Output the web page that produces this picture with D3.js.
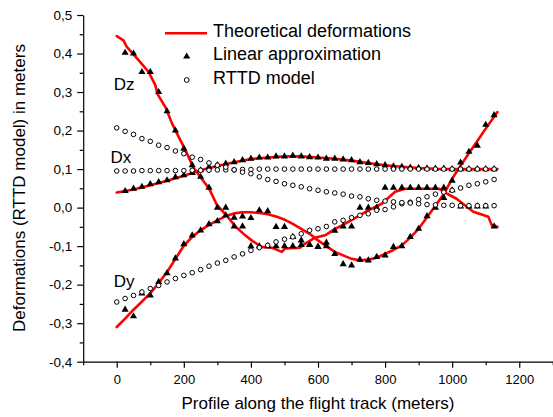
<!DOCTYPE html>
<html><head><meta charset="utf-8">
<script src="https://cdn.jsdelivr.net/npm/d3@7"></script>
<style>body{margin:0;background:#fff} svg{display:block} text{font-family:"Liberation Sans",Arial,sans-serif;fill:#000}</style>
</head><body><svg id="c" width="553" height="417"></svg>
<script>
// ---------- data ----------
const xTicks = [0,200,400,600,800,1000,1200];
const xTickLabels = ["0","200","400","600","800","1000","1200"];
const xMinor = [-100,100,300,500,700,900,1100,1300];
const yTicks = [-0.4,-0.3,-0.2,-0.1,0,0.1,0.2,0.3,0.4,0.5];
const yTickLabels = ["-0,4","-0,3","-0,2","-0,1","0,0","0,1","0,2","0,3","0,4","0,5"];
const yMinor = [-0.35,-0.25,-0.15,-0.05,0.05,0.15,0.25,0.35,0.45];

const stations = [0,25,50,75,100,125,150,175,200,225,250,275,300,325,350,375,400,425,450,475,500,525,550,575,600,625,650,675,700,725,750,775,800,825,850,875,900,925,950,975,1000,1025,1050,1075,1100,1125];

// Linear approximation (triangles); first station has no point
const dxLinear = [null,0.043,0.049,0.054,0.061,0.066,0.071,0.079,0.084,0.090,0.097,0.105,0.110,0.114,0.118,0.123,0.127,0.130,0.130,0.133,0.133,0.135,0.133,0.131,0.130,0.127,0.127,0.125,0.123,0.118,0.116,0.113,0.110,0.107,0.106,0.104,0.103,0.102,0.101,0.101,0.100,0.100,0.100,0.100,0.100,0.100];
const dyLinear = [null,-0.265,-0.282,-0.223,-0.228,-0.193,-0.170,-0.132,-0.095,-0.072,-0.059,-0.043,-0.035,-0.020,-0.026,-0.023,-0.027,-0.007,-0.009,-0.050,-0.050,-0.076,-0.085,-0.097,-0.102,-0.100,-0.120,-0.147,-0.150,-0.135,-0.137,-0.128,-0.124,-0.102,-0.100,-0.076,-0.055,-0.022,0.000,0.025,0.070,0.117,0.145,0.161,0.215,0.240];
const dzLinear = [null,0.402,0.400,0.352,0.352,0.300,0.250,0.200,0.153,0.110,0.080,0.052,0.000,0.000,-0.049,-0.049,-0.100,-0.100,-0.100,-0.100,-0.100,-0.100,-0.097,-0.097,-0.102,-0.091,-0.060,-0.049,-0.049,0.000,0.000,0.000,0.052,0.052,0.052,0.052,0.052,0.052,0.052,0.052,0.045,0.003,0.003,0.003,0.003,-0.049];

// RTTD model (circles)
const dxRttd = [0.095,0.095,0.095,0.096,0.096,0.096,0.096,0.096,0.096,0.097,0.097,0.097,0.098,0.098,0.098,0.099,0.099,0.100,0.100,0.100,0.100,0.100,0.100,0.100,0.100,0.100,0.100,0.100,0.100,0.100,0.100,0.100,0.100,0.100,0.100,0.100,0.100,0.100,0.100,0.100,0.100,0.100,0.100,0.100,0.100,0.100];
const dyRttd = [-0.245,-0.236,-0.228,-0.219,-0.210,-0.202,-0.193,-0.184,-0.176,-0.169,-0.161,-0.152,-0.144,-0.137,-0.128,-0.120,-0.111,-0.104,-0.098,-0.089,-0.082,-0.076,-0.068,-0.059,-0.055,-0.049,-0.037,-0.033,-0.026,-0.020,-0.016,-0.007,-0.005,0.002,0.010,0.014,0.021,0.028,0.035,0.040,0.045,0.051,0.058,0.062,0.067,0.073];
const dzRttd = [0.207,0.198,0.190,0.179,0.172,0.162,0.156,0.147,0.140,0.131,0.125,0.116,0.110,0.105,0.098,0.092,0.088,0.080,0.073,0.068,0.062,0.058,0.054,0.049,0.045,0.041,0.038,0.035,0.030,0.028,0.023,0.019,0.017,0.015,0.013,0.012,0.010,0.008,0.007,0.006,0.006,0.005,0.005,0.005,0.005,0.005];

// Theoretical deformations (red lines)
const dxTheoX = [0,50,100,150,200,250,300,350,400,450,500,550,600,650,700,750,800,850,900,950,1000,1050,1100,1135];
const dxTheo  = [0.039,0.047,0.058,0.070,0.083,0.097,0.108,0.118,0.126,0.130,0.133,0.133,0.130,0.127,0.122,0.116,0.110,0.106,0.103,0.101,0.100,0.100,0.100,0.100];
const dyTheoX = [0,25,50,75,100,125,150,175,200,225,250,275,300,325,350,375,400,425,450,475,500,525,550,575,600,625,650,675,700,725,750,775,800,825,850,875,900,925,950,975,1000,1025,1050,1075,1100,1135];
const dyTheo  = [-0.310,-0.288,-0.265,-0.244,-0.222,-0.196,-0.167,-0.133,-0.099,-0.076,-0.059,-0.045,-0.033,-0.022,-0.015,-0.012,-0.012,-0.014,-0.017,-0.023,-0.031,-0.042,-0.055,-0.068,-0.085,-0.100,-0.115,-0.124,-0.133,-0.137,-0.135,-0.130,-0.120,-0.110,-0.098,-0.078,-0.055,-0.025,0.005,0.035,0.075,0.109,0.141,0.173,0.205,0.248];
const dzTheoX = [0,20,30,65,95,115,122,145,165,185,205,228,253,275,298,325,355,383,405,432,462,492,502,546,561,591,621,651,680,710,750,790,830,860,960,985,1013,1063,1108,1118,1135];
const dzTheo  = [0.445,0.434,0.417,0.383,0.352,0.318,0.294,0.261,0.218,0.183,0.149,0.105,0.075,0.050,0.008,-0.018,-0.050,-0.072,-0.087,-0.102,-0.104,-0.115,-0.106,-0.104,-0.094,-0.078,-0.072,-0.055,-0.042,-0.027,-0.007,0.010,0.041,0.049,0.049,0.036,0.023,-0.011,-0.024,-0.046,-0.050];

const componentLabels = [
  {text:"Dz", x:0, y:0.305},
  {text:"Dx", x:-10, y:0.115},
  {text:"Dy", x:0, y:-0.207}
];
const legendLabels = ["Theoretical deformations","Linear approximation","RTTD model"];
const xTitle = "Profile along the flight track (meters)";
const yTitle = "Deformations (RTTD model) in meters";

// ---------- chart ----------
const svg = d3.select('#c');
const x = d3.scaleLinear().domain([-100,1300]).range([83.2,552.8]);
const y = d3.scaleLinear().domain([-0.4,0.5]).range([361.7,15]);

function styleAxis(g, fs){
  g.select('.domain').attr('stroke','#000').attr('stroke-width',1.2);
  g.selectAll('.tick line').attr('stroke','#000').attr('stroke-width',1.2);
  g.selectAll('.tick text').style('font-size',fs).attr('fill','#000');
}
const gx = svg.append('g').attr('transform','translate(0,361.7)')
  .call(d3.axisBottom(x).tickValues(xTicks).tickFormat((d,i)=>xTickLabels[i]).tickSize(6).tickSizeOuter(0).tickPadding(7));
styleAxis(gx,'13px');
const gxm = svg.append('g').attr('transform','translate(0,361.7)')
  .call(d3.axisBottom(x).tickValues(xMinor).tickFormat('').tickSize(3.5).tickSizeOuter(0));
gxm.select('.domain').remove(); styleAxis(gxm,'13px');

const gy = svg.append('g').attr('transform','translate(83.2,0)')
  .call(d3.axisLeft(y).tickValues(yTicks).tickFormat((d,i)=>yTickLabels[i]).tickSize(6).tickSizeOuter(0).tickPadding(5));
styleAxis(gy,'13.5px');
const gym = svg.append('g').attr('transform','translate(83.2,0)')
  .call(d3.axisLeft(y).tickValues(yMinor).tickFormat('').tickSize(3.5).tickSizeOuter(0));
gym.select('.domain').remove(); styleAxis(gym,'13px');

// titles
svg.append('text').attr('x',318).attr('y',409).attr('text-anchor','middle').style('font-size','17px').text(xTitle);
svg.append('text').attr('transform','translate(25,188) rotate(-90)').attr('text-anchor','middle').style('font-size','17px').text(yTitle);

// red lines
const line = d3.line().x(d=>x(d[0])).y(d=>y(d[1]));
[[dxTheoX,dxTheo],[dyTheoX,dyTheo],[dzTheoX,dzTheo]].forEach(([xs,vs])=>{
  svg.append('path').datum(xs.map((v,i)=>[v,vs[i]]))
    .attr('d',line).attr('fill','none').attr('stroke','#ff0000').attr('stroke-width',2.6)
    .attr('stroke-linejoin','round').attr('stroke-linecap','round');
});

// triangles
const tri = d3.symbol(d3.symbolTriangle, 22);
[dxLinear,dyLinear,dzLinear].forEach(arr=>{
  const pts = stations.map((s,i)=>[s,arr[i]]).filter(d=>d[1]!==null);
  svg.append('g').selectAll('path').data(pts).join('path')
    .attr('d',tri).attr('transform',d=>`translate(${x(d[0])},${y(d[1])})`).attr('fill','#000');
});

// circles
[dxRttd,dyRttd,dzRttd].forEach(arr=>{
  svg.append('g').selectAll('circle').data(stations.map((s,i)=>[s,arr[i]])).join('circle')
    .attr('cx',d=>x(d[0])).attr('cy',d=>y(d[1])).attr('r',2.3)
    .attr('fill','#fff').attr('stroke','#000').attr('stroke-width',1);
});

// component labels
componentLabels.forEach(l=>{
  svg.append('text').attr('x',x(l.x)-3).attr('y',y(l.y)).style('font-size','17px').text(l.text);
});

// legend
const lg = svg.append('g');
lg.append('line').attr('x1',165).attr('x2',207).attr('y1',33.3).attr('y2',33.3).attr('stroke','#ff0000').attr('stroke-width',2.6);
lg.append('path').attr('d',tri).attr('transform','translate(186.7,56.5)').attr('fill','#000');
lg.append('circle').attr('cx',186.7).attr('cy',80).attr('r',2.4).attr('fill','#fff').attr('stroke','#000');
legendLabels.forEach((t,i)=>{
  lg.append('text').attr('x',213).attr('y',37+i*23.3).style('font-size','18px').text(t);
});
</script></body></html>
